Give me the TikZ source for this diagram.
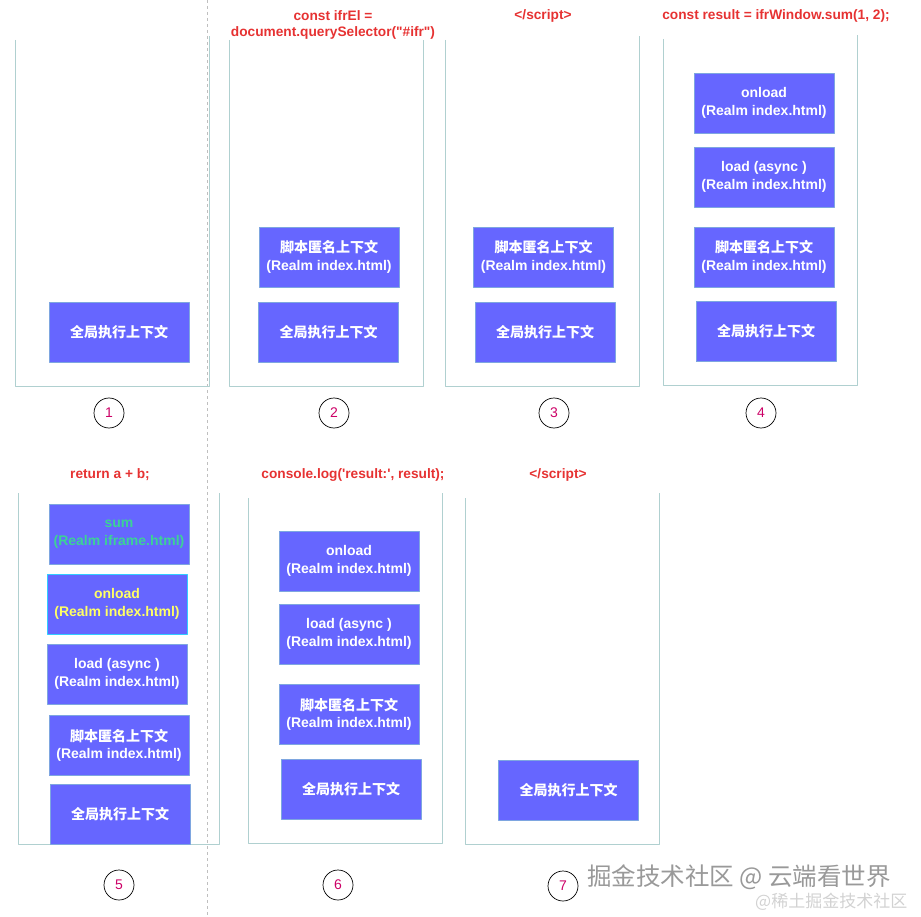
\documentclass[tikz,border=0pt]{standalone}
\usepackage{fontspec}
\setmainfont{Liberation Sans}
\newfontfamily\cjk{Noto Sans CJK SC}
\definecolor{boxblue}{RGB}{102,102,255}
\definecolor{boxedge}{RGB}{126,166,224}
\definecolor{frameline}{RGB}{176,208,208}
\definecolor{codered}{RGB}{230,50,50}
\definecolor{numred}{RGB}{204,0,102}
\definecolor{sumgreen}{RGB}{60,210,150}
\definecolor{onyellow}{RGB}{255,255,100}
\definecolor{oncyan}{RGB}{51,204,255}
\begin{document}
\begin{tikzpicture}[x=1pt,y=-1pt,line join=round,
	ctx/.style={draw=boxedge,fill=boxblue,text=white,font=\fontsize{14}{17.5}\selectfont\bfseries,align=center,minimum width=140pt,minimum height=60pt,inner sep=0pt},
	stackframe/.style={draw=frameline,line width=0.8pt},
	codelabel/.style={text=codered,font=\fontsize{13.7}{16}\selectfont\bfseries,align=center},
	stepnum/.style={circle,draw,line width=0.7pt,minimum size=30pt,inner sep=0pt,text=numred,font=\fontsize{14}{14}\selectfont}]
		\useasboundingbox (0,0) rectangle (921,917);
		\draw[gray!50,dashed] (207,0)--(207,917);
		% frames
		\draw[stackframe] (15,40)--(15,386)--(209,386)--(209,36);
		\draw[stackframe] (229,40)--(229,386)--(423,386)--(423,40);
		\draw[stackframe] (445,40)--(445,386)--(639,386)--(639,36);
		\draw[stackframe] (663,39)--(663,385)--(857,385)--(857,35);
		\draw[stackframe] (18,493)--(18,844)--(219,844)--(219,493);
		\draw[stackframe] (248,498)--(248,843)--(442,843)--(442,493);
		\draw[stackframe] (465,498)--(465,844)--(659,844)--(659,493);
		% code labels
		\node[codelabel] (c2) at (333,25) {const ifrEl =\\document.querySelector(\textquotedbl\#ifr\textquotedbl)};
		\node[codelabel] (c3) at (543,16) {</script>};
		\node[codelabel] (c4) at (776,16) {const result = ifrWindow.sum(1, 2);};
		\node[codelabel] (c5) at (110,475) {return a + b;};
		\node[codelabel] (c6) at (353,475) {console.log(\textquotesingle result:\textquotesingle, result);};
		\node[codelabel] (c7) at (558,475) {</script>};
		% stage 1
		\node[ctx] (g1) at (119,332) {{\cjk 全局执行上下文}};
		% stage 2
		\node[ctx] (s2) at (329,257) {{\cjk 脚本匿名上下文}\\(Realm index.html)};
		\node[ctx] (g2) at (328.5,332) {{\cjk 全局执行上下文}};
		% stage 3
		\node[ctx] (s3) at (543.5,257) {{\cjk 脚本匿名上下文}\\(Realm index.html)};
		\node[ctx] (g3) at (545,332) {{\cjk 全局执行上下文}};
		% stage 4
		\node[ctx] (o4) at (764,103) {onload\\(Realm index.html)};
		\node[ctx] (l4) at (764,177) {load (async )\\(Realm index.html)};
		\node[ctx] (s4) at (764,257) {{\cjk 脚本匿名上下文}\\(Realm index.html)};
		\node[ctx] (g4) at (766,331.5) {{\cjk 全局执行上下文}};
		% stage 5
		\node[ctx,text=sumgreen] (f5) at (119,534) {sum\\(Realm iframe.html)};
		\node[ctx,draw=oncyan,text=onyellow] (o5) at (117,604) {onload\\(Realm index.html)};
		\node[ctx] (l5) at (117,674) {load (async )\\(Realm index.html)};
		\node[ctx] (s5) at (119,745.5) {{\cjk 脚本匿名上下文}\\(Realm index.html)};
		\node[ctx] (g5) at (120,814) {{\cjk 全局执行上下文}};
		% stage 6
		\node[ctx] (o6) at (349,561) {onload\\(Realm index.html)};
		\node[ctx] (l6) at (349,634) {load (async )\\(Realm index.html)};
		\node[ctx] (s6) at (349,714.5) {{\cjk 脚本匿名上下文}\\(Realm index.html)};
		\node[ctx] (g6) at (351,789) {{\cjk 全局执行上下文}};
		% stage 7
		\node[ctx] (g7) at (568.5,790) {{\cjk 全局执行上下文}};
		% step numbers
		\node[stepnum] (n1) at (109,413) {1};
		\node[stepnum] (n2) at (334,413) {2};
		\node[stepnum] (n3) at (554,413) {3};
		\node[stepnum] (n4) at (761,413) {4};
		\node[stepnum] (n5) at (119,885) {5};
		\node[stepnum] (n6) at (338,885) {6};
		\node[stepnum] (n7) at (563,886) {7};
		% watermark
		\node[anchor=west,inner sep=0pt,text=gray!80,font=\cjk\fontsize{24.5}{24.5}\selectfont] (wm) at (587,877) {掘金技术社区 @ 云端看世界};
		\node[anchor=west,inner sep=0pt,text=gray!35,font=\cjk\fontsize{17}{17}\selectfont] (wm2) at (755,902) {@稀土掘金技术社区};
\end{tikzpicture}
\end{document}
